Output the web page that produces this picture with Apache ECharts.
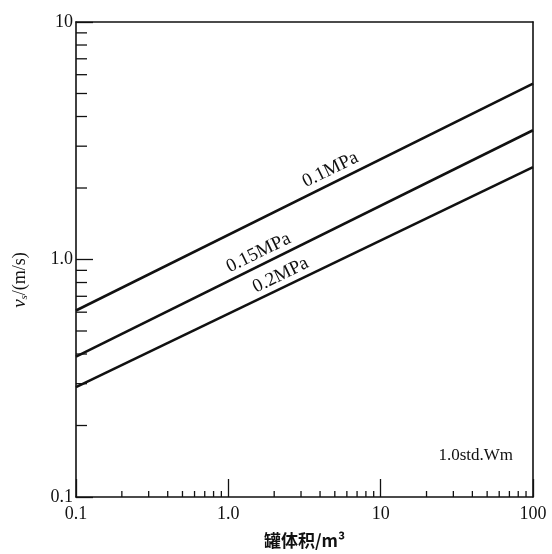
<!DOCTYPE html>
<html>
<head>
<meta charset="utf-8">
<script src="https://cdn.jsdelivr.net/npm/echarts@6/dist/echarts.min.js"></script>
<style>
  html, body { margin: 0; padding: 0; background: #fff; }
  #chart { width: 552px; height: 554px; }
</style>
</head>
<body>
<div id="chart"></div>
<script>
// Tank volume (m3) at the two ends of each curve
const volume = [0.1, 100];
// Superficial velocity vs (m/s) for each pressure
const v_01MPa = [0.61, 5.5];
const v_015MPa = [0.39, 3.5];
const v_02MPa = [0.29, 2.45];
const seriesNames = ['0.1MPa', '0.15MPa', '0.2MPa'];
// where along each curve its label sits (tank volume)
const labelAtVolume = [5.09, 1.71, 2.39];

const xTickLabels = { 0.1: '0.1', 1: '1.0', 10: '10', 100: '100' };
const yTickLabels = { 0.1: '0.1', 1: '1.0', 10: '10' };
const xMinorTicks = [0.2, 0.3, 0.4, 0.5, 0.6, 0.7, 0.8, 0.9,
                     2, 3, 4, 5, 6, 7, 8, 9,
                     20, 30, 40, 50, 60, 70, 80, 90];
const yMinorTicks = [0.2, 0.3, 0.4, 0.5, 0.6, 0.7, 0.8, 0.9,
                     2, 3, 4, 5, 6, 7, 8, 9];

const SERIF = '"Liberation Serif", "Times New Roman", "DejaVu Serif", serif';
const INK = '#111';

// value on a straight log-log segment, for label anchoring
function onLine(ys, x) {
  const t = (Math.log10(x) - Math.log10(volume[0])) /
            (Math.log10(volume[1]) - Math.log10(volume[0]));
  return Math.pow(10, Math.log10(ys[0]) + t * (Math.log10(ys[1]) - Math.log10(ys[0])));
}

const curves = [v_01MPa, v_015MPa, v_02MPa];
const labelLift = [-13, -12, -12];
const lineSeries = curves.map((ys, i) => ({
  name: seriesNames[i],
  type: 'line',
  data: volume.map((x, k) => [x, ys[k]]),
  showSymbol: false,
  silent: true,
  lineStyle: { color: INK, width: 2.6 },
  markPoint: {
    symbol: 'circle',
    symbolSize: 0,
    silent: true,
    data: [{
      coord: [labelAtVolume[i], onLine(ys, labelAtVolume[i])],
      label: {
        show: true,
        formatter: seriesNames[i],
        rotate: 26,
        offset: [0, labelLift[i]],
        color: INK,
        fontFamily: SERIF,
        fontSize: 19
      }
    }]
  }
}));

const minorX = {
  type: 'custom',
  silent: true,
  clip: false,
  data: xMinorTicks.map(v => [v, 0.1]),
  renderItem: (params, api) => {
    const p = api.coord([api.value(0), api.value(1)]);
    return { type: 'line', shape: { x1: p[0], y1: p[1], x2: p[0], y2: p[1] - 6 },
             style: { stroke: INK, lineWidth: 1.3 } };
  }
};
const minorY = {
  type: 'custom',
  silent: true,
  clip: false,
  data: yMinorTicks.map(v => [0.1, v]),
  renderItem: (params, api) => {
    const p = api.coord([api.value(0), api.value(1)]);
    return { type: 'line', shape: { x1: p[0], y1: p[1], x2: p[0] + 11, y2: p[1] },
             style: { stroke: INK, lineWidth: 1.3 } };
  }
};

const chart = echarts.init(document.getElementById('chart'), null, { renderer: 'canvas' });
chart.setOption({
  animation: false,
  backgroundColor: '#fff',
  grid: { left: 76, right: 19, top: 22, bottom: 55 },
  xAxis: [{
    type: 'log', logBase: 10, min: 0.1, max: 100,
    name: '罐体积/m³', nameLocation: 'middle', nameGap: 35,
    nameTextStyle: { color: INK, fontFamily: '"Noto Sans CJK SC", sans-serif', fontWeight: 'bold', fontSize: 17 },
    axisLine: { lineStyle: { color: INK, width: 1.6 } },
    axisTick: { inside: true, length: 18, lineStyle: { color: INK, width: 1.3 } },
    axisLabel: { margin: 8, color: INK, fontFamily: SERIF, fontSize: 18,
                 formatter: v => xTickLabels[+v.toPrecision(3)] || '' },
    splitLine: { show: false }, minorTick: { show: false }
  }, {
    type: 'log', logBase: 10, min: 0.1, max: 100, position: 'top',
    axisLine: { lineStyle: { color: INK, width: 1.6 } },
    axisTick: { show: false }, axisLabel: { show: false }, splitLine: { show: false }
  }],
  yAxis: [{
    type: 'log', logBase: 10, min: 0.1, max: 10,
    axisLine: { lineStyle: { color: INK, width: 1.6 } },
    axisTick: { inside: true, length: 17, lineStyle: { color: INK, width: 1.3 } },
    axisLabel: { margin: 3, color: INK, fontFamily: SERIF, fontSize: 18,
                 formatter: v => yTickLabels[+v.toPrecision(3)] || '' },
    splitLine: { show: false }, minorTick: { show: false }
  }, {
    type: 'log', logBase: 10, min: 0.1, max: 10, position: 'right',
    axisLine: { lineStyle: { color: INK, width: 1.6 } },
    axisTick: { show: false }, axisLabel: { show: false }, splitLine: { show: false }
  }],
  graphic: [{
    type: 'text',
    x: 20, y: 280,
    rotation: Math.PI / 2,
    style: {
      text: '{v|v}{s|s}{n|/(m/s)}',
      align: 'center', verticalAlign: 'middle',
      fill: INK,
      rich: {
        v: { fontFamily: SERIF, fontStyle: 'italic', fontSize: 19, fill: INK },
        s: { fontFamily: SERIF, fontStyle: 'italic', fontSize: 11, fill: INK, verticalAlign: 'bottom', padding: [9, 0, 0, 0] },
        n: { fontFamily: SERIF, fontSize: 18, fill: INK }
      }
    }
  }, {
    type: 'text',
    x: 513, y: 456,
    style: {
      text: '1.0std.Wm',
      align: 'right', verticalAlign: 'middle',
      fill: INK, fontFamily: SERIF, fontSize: 17
    }
  }],
  series: [...lineSeries, minorX, minorY]
});
</script>
</body>
</html>
